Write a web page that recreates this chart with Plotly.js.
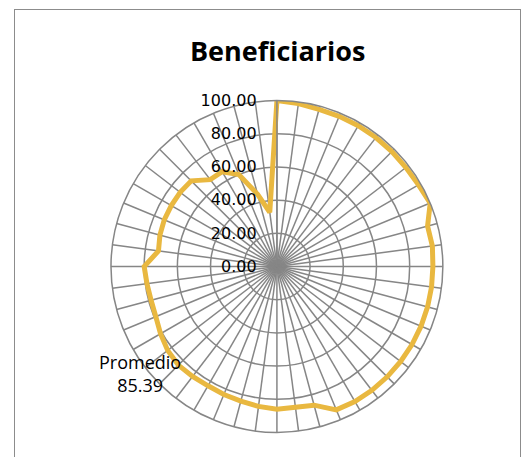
<!DOCTYPE html>
<html>
<head>
<meta charset="utf-8">
<script src="https://cdn.plot.ly/plotly-3.0.1.min.js"></script>
<style>
html,body{margin:0;padding:0;background:#fff;}
#frame{position:absolute;left:14px;top:9px;width:505px;height:470px;border:1px solid #8c8c8c;pointer-events:none;}
#chart{position:absolute;left:0;top:0;width:531px;height:457px;}
</style>
</head>
<body>
<div id="chart"></div>
<div id="frame"></div>
<script>
// 48 spokes, clockwise from the top
const categories = Array.from({length: 48}, (_, i) => String(i + 1));
const values = [
  100, 99, 98, 98, 98, 98, 98, 98, 98.5, 100,
  94, 94.5, 94, 94, 94, 94, 94, 94, 94, 94,
  94, 93.5, 86.5, 85.5, 86, 85, 84, 83.5, 83, 83.5,
  84, 83, 81, 79, 78.5, 79, 80, 72, 73, 73.5,
  73.5, 73.5, 73, 66, 66, 60, 45, 33
];
const radialTicks = [0, 20, 40, 60, 80, 100];
const titleText = 'Beneficiarios';
const noteLines = ['Promedio', '85.39'];

const trace = {
  type: 'scatterpolar',
  mode: 'lines',
  r: values.concat([values[0]]),
  theta: categories.concat([categories[0]]),
  line: {color: '#E9B840', width: 5},
  cliponaxis: false,
  hoverinfo: 'r'
};

const grid = '#868686';
const layout = {
  width: 531, height: 457,
  margin: {l: 0, r: 0, t: 0, b: 0},
  paper_bgcolor: '#fff',
  showlegend: false,
  title: {
    text: '<b>' + titleText + '</b>',
    x: 0.523, xanchor: 'center',
    y: 0.888, yanchor: 'middle',
    font: {family: 'Open Sans, Noto Sans, sans-serif', size: 27, color: '#000'}
  },
  polar: {
    domain: {x: [0.209, 0.834], y: [0.0536, 0.780]},
    bgcolor: '#fff',
    gridshape: 'circular',
    radialaxis: {
      range: [0, 100],
      tickvals: radialTicks,
      ticktext: radialTicks.map(v => v.toFixed(2)),
      angle: 90,
      side: 'counterclockwise',
      tickangle: 90,
      showline: true, linecolor: grid, linewidth: 1.5,
      gridcolor: grid, gridwidth: 1.5,
      ticks: 'outside', ticklen: 14, tickcolor: 'rgba(0,0,0,0)',
      tickfont: {family: 'DejaVu Sans, sans-serif', size: 16, color: '#000'}
    },
    angularaxis: {
      type: 'category',
      categoryarray: categories,
      direction: 'clockwise',
      rotation: 90,
      showticklabels: false,
      ticks: '',
      showline: true, linecolor: grid, linewidth: 1.5,
      gridcolor: grid, gridwidth: 1.5
    }
  },
  annotations: [{
    xref: 'paper', yref: 'paper',
    x: 140 / 531, y: 1 - 373 / 457,
    xanchor: 'center', yanchor: 'middle',
    text: noteLines.join('<br>'),
    showarrow: false,
    align: 'center',
    font: {family: 'Open Sans, sans-serif', size: 18, color: '#000'}
  }]
};

Plotly.newPlot('chart', [trace], layout, {displayModeBar: false, staticPlot: true});
</script>
</body>
</html>
